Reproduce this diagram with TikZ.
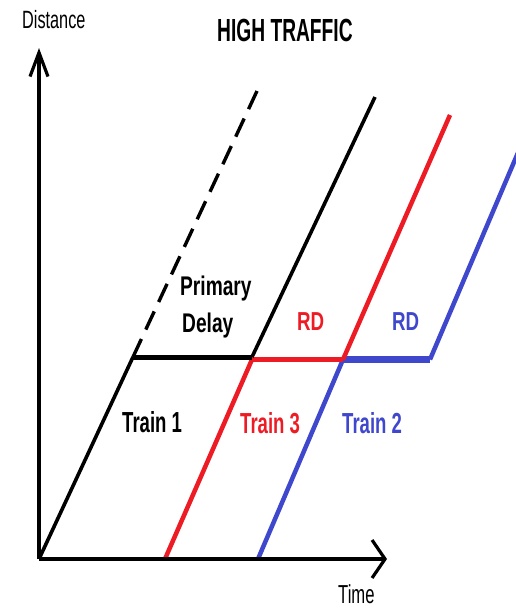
\documentclass[tikz,border=0pt]{standalone}
\usepackage{fontspec}
\setmainfont{Liberation Sans}
\usetikzlibrary{arrows.meta}
\definecolor{pred}{RGB}{237,28,36}
\definecolor{pblue}{RGB}{63,72,204}
\newcommand\sqz[2]{\scalebox{#1}[1]{#2}}
\begin{document}
\begin{tikzpicture}[x=1pt,y=-1pt,
  lab/.style={inner sep=0pt, anchor=base west},
  axis/.style={black, line width=3.6pt},
  diag/.style={line width=3.6pt},
  hor/.style={line width=5pt},
  lbl/.style={font=\fontsize{29}{29}\selectfont\bfseries}]
\useasboundingbox (0,0) rectangle (516,608);
% coordinates
\coordinate (O) at (39,559);
\coordinate (Ytip) at (39,48);
\coordinate (Xtip) at (387,559);
\coordinate (B1) at (133,357);
\coordinate (B2) at (252,357);
\coordinate (Btop) at (375,97);
\coordinate (Dtop) at (257,91);
\coordinate (R0) at (165,559);
\coordinate (R1) at (252,359.5);
\coordinate (R2) at (343,359.5);
\coordinate (Rtop) at (450,115);
\coordinate (U0) at (258,559);
\coordinate (U1) at (343,359.5);
\coordinate (U2) at (430,359.5);
\coordinate (Utop) at (520,148);
% blue train
\draw[pblue, diag, line width=4.5pt] (U0) -- (U1);
\draw[pblue, hor, line width=7pt] (U1) -- (U2);
\draw[pblue, diag, line width=4.5pt] (U2) -- (Utop);
% red train
\draw[pred, diag, line width=4.5pt] (R0) -- (R1);
\draw[pred, hor] (R1) -- (R2);
\draw[pred, diag, line width=4.5pt] (R2) -- (Rtop);
% black train
\draw[black, diag] (O) -- (B1);
\draw[black, hor] (B1) -- (B2);
\draw[black, diag] (B2) -- (Btop);
\draw[black, line width=3.4pt, dash pattern=on 20pt off 10.4pt] (Dtop) -- (B1);
% axes
\draw[axis, -{Straight Barb[length=24pt,width=18pt,line width=3.2pt]}] (O) -- (Ytip);
\draw[axis, -{Straight Barb[length=13pt,width=38pt,line width=3.2pt]}] (O) -- (Xtip);
% labels
\node[lab, font=\fontsize{25}{25}\selectfont] (dist) at (22,28) {\sqz{0.65}{Distance}};
\node[lab, font=\fontsize{32}{32}\selectfont\bfseries] (title) at (217,41) {\sqz{0.6}{HIGH TRAFFIC}};
\node[lab, font=\fontsize{27}{27}\selectfont\bfseries] (prim) at (180,295) {\sqz{0.71}{Primary}};
\node[lab, font=\fontsize{27}{27}\selectfont\bfseries] (delay) at (182,332) {\sqz{0.71}{Delay}};
\node[lab, font=\fontsize{26}{26}\selectfont\bfseries, text=pred] (rd1) at (297,330) {\sqz{0.72}{RD}};
\node[lab, font=\fontsize{26}{26}\selectfont\bfseries, text=pblue] (rd2) at (392,330) {\sqz{0.72}{RD}};
\node[lab, lbl] (t1) at (122,432) {\sqz{0.64}{Train 1}};
\node[lab, lbl, text=pred] (t3) at (240,433) {\sqz{0.64}{Train 3}};
\node[lab, lbl, text=pblue] (t2) at (342,433) {\sqz{0.64}{Train 2}};
\node[lab, font=\fontsize{26}{26}\selectfont] (time) at (338,603) {\sqz{0.64}{Time}};
\end{tikzpicture}
\end{document}
